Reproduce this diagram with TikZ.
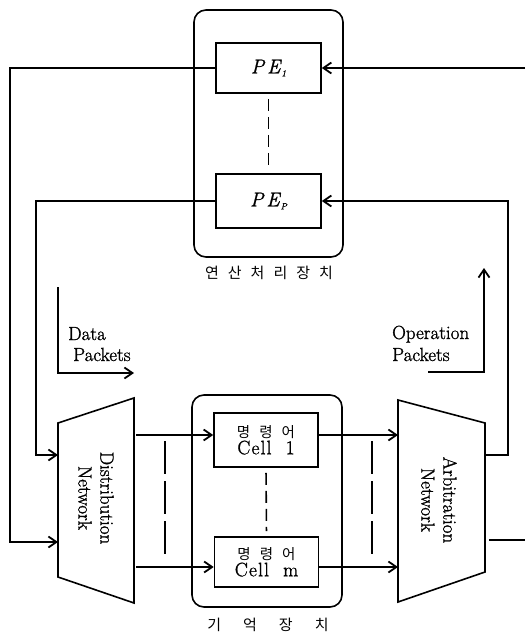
\documentclass[tikz,border=0pt]{standalone}
\usepackage{fontspec}
\setmainfont{Latin Modern Roman}[FakeBold=1.2]
\newfontfamily\kr{Noto Sans CJK KR}
\usetikzlibrary{arrows.meta}
\tikzset{
  lw/.style={line width=1.6pt},
  arr/.style={lw,-{Straight Barb[length=8pt,width=11pt,line width=1.8pt]}},
  box/.style={draw,lw,inner sep=0pt,align=center},
  group/.style={draw,lw,rounded corners=12pt,inner sep=0pt},
  shortdash/.style={lw,dash pattern=on 12pt off 6pt,shorten <=5pt,shorten >=5pt},
  longdash/.style={lw,dash pattern=on 33pt off 7pt},
  lbl/.style={inner sep=0pt,font=\fontsize{19}{22}\selectfont},
  krl/.style={inner sep=0pt,font=\kr\fontsize{15}{18}\selectfont},
}
\newcommand{\pelabel}[1]{{\fontsize{20}{22}\selectfont\itshape P\kern3pt E}\kern1pt\raisebox{-3pt}{\fontsize{9}{9}\selectfont\itshape #1}}
\newcommand{\celltext}[1]{{\kr\fontsize{14.5}{20}\selectfont 명\hspace{9pt}령\hspace{9pt}어}\\[1pt]{\fontsize{19.5}{20}\selectfont\addfontfeatures{LetterSpace=6}Cell\ \ #1}}
\begin{document}
\begin{tikzpicture}[x=1pt,y=-1pt]
\useasboundingbox (0,0) rectangle (525,637);
% processing unit
\node[group,minimum width=149pt,minimum height=247pt] (pu) at (268.5,133.5) {};
\node[box,minimum width=105pt,minimum height=50pt] (PE1) at (268.5,68) {\pelabel{1}};
\node[box,minimum width=105pt,minimum height=54pt] (PEp) at (268.5,201) {\pelabel{P}};
\draw[shortdash] (PE1.south) -- (PEp.north);
\node[krl] (pulbl) at (269,273) {연\hspace{9pt}산\hspace{9pt}처\hspace{9pt}리\hspace{9pt}장\hspace{9pt}치};
% memory
\node[group,minimum width=150pt,minimum height=212pt] (mem) at (267,501) {};
\node[box,minimum width=104pt,minimum height=54pt] (C1) at (266,440) {\celltext{1}};
\node[box,minimum width=104pt,minimum height=50pt] (Cm) at (266.5,562) {\celltext{m}};
\draw[shortdash] (C1.south) -- (Cm.north);
\node[krl] (memlbl) at (268,625) {기\hspace{22pt}억\hspace{22pt}장\hspace{22pt}치};
% distribution network
\coordinate (dTL) at (58,423); \coordinate (dTR) at (134,398);
\coordinate (dBR) at (134,603); \coordinate (dBL) at (58,577);
\draw[lw,line join=miter] (dTL) -- (dTR) -- (dBR) -- (dBL) -- cycle;
\node[lbl,rotate=-90,align=center] (dn) at (96,498) {Distribution\\Network};
% arbitration network
\coordinate (aTL) at (398,400); \coordinate (aTR) at (485,423);
\coordinate (aBR) at (485,572); \coordinate (aBL) at (398,602);
\draw[lw,line join=miter] (aTL) -- (aTR) -- (aBR) -- (aBL) -- cycle;
\node[lbl,rotate=-90,align=center] (an) at (439,500) {Arbitration\\Network};
% feedback to distribution
\coordinate (lo) at (10,542); \coordinate (din1) at (58,542);
\coordinate (li) at (36,455); \coordinate (din2) at (58,455);
\draw[arr] (PE1.west) -| (lo) -- (din1);
\draw[arr] (PEp.west) -| (li) -- (din2);
% distribution to cells
\coordinate (dout1) at (136,435); \coordinate (dout2) at (136,567);
\draw[arr] (dout1) -- (dout1 -| C1.west);
\draw[arr] (dout2) -- (dout2 -| Cm.west);
\coordinate (dd1) at (165,441); \coordinate (dd2) at (165,560);
\draw[longdash] (dd1) -- (dd2);
% cells to arbitration
\draw[arr] (C1.east |- dout1) -- (dout1 -| aTL);
\draw[arr] (Cm.east |- dout2) -- (dout2 -| aTL);
\coordinate (ad1) at (372,441); \coordinate (ad2) at (372,560);
\draw[longdash] (ad1) -- (ad2);
% arbitration to PEs
\coordinate (aout) at (485,455); \coordinate (rc) at (508,455);
\draw[arr] (aout) -- (rc) |- (PEp.east);
\coordinate (re) at (525,0);
\draw[arr] (PE1.east -| re) -- (PE1.east);
\coordinate (aout2) at (489,540); \coordinate (re2) at (525,540);
\draw[lw] (aout2) -- (re2);
% data packets
\coordinate (dp1) at (58,287); \coordinate (dp2) at (58,373); \coordinate (dp3) at (134,373);
\draw[arr] (dp1) -- (dp2) -- (dp3);
\node[lbl,anchor=base west] (dpt1) at (68,340) {Data};
\node[lbl,anchor=base west] (dpt2) at (73,361) {Packets};
% operation packets
\coordinate (op1) at (428,372); \coordinate (op2) at (484,372); \coordinate (op3) at (484,268);
\draw[arr] (op1) -- (op2) -- (op3);
\node[lbl,anchor=base west] (opt1) at (392,339) {Operation};
\node[lbl,anchor=base west] (opt2) at (392,361) {Packets};
\end{tikzpicture}
\end{document}
